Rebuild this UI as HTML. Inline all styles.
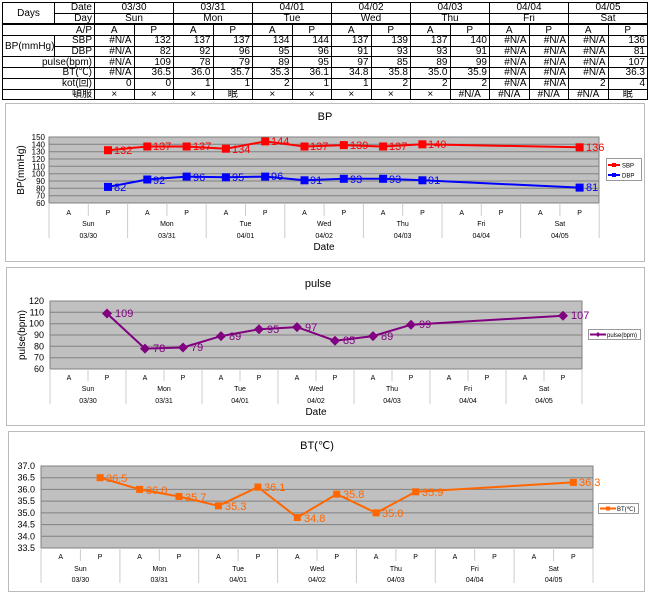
<!DOCTYPE html>
<html><head><meta charset="utf-8"><style>
body{margin:0;width:650px;height:594px;background:#fff;position:relative;overflow:hidden;font-family:"Liberation Sans","Noto Sans CJK JP",sans-serif}
table{position:absolute;left:2px;top:2px;border-collapse:collapse;table-layout:fixed;width:645px;font-size:10px;line-height:9px}
td{border:1px solid #000;padding:0 2px;height:9.7px;text-align:right;white-space:nowrap;overflow:hidden}
td.c{text-align:center}
tr.ap td{border-top:2px solid #000}
svg{position:absolute;left:0;top:0}
</style></head><body>
<table>
<colgroup><col style="width:52px"><col style="width:40px"><col span="14" style="width:39.5px"></colgroup>
<tr><td rowspan="2" class="c">Days</td><td>Date</td><td colspan="2" class="c">03/30</td><td colspan="2" class="c">03/31</td><td colspan="2" class="c">04/01</td><td colspan="2" class="c">04/02</td><td colspan="2" class="c">04/03</td><td colspan="2" class="c">04/04</td><td colspan="2" class="c">04/05</td></tr>
<tr><td>Day</td><td colspan="2" class="c">Sun</td><td colspan="2" class="c">Mon</td><td colspan="2" class="c">Tue</td><td colspan="2" class="c">Wed</td><td colspan="2" class="c">Thu</td><td colspan="2" class="c">Fri</td><td colspan="2" class="c">Sat</td></tr>
<tr class="ap"><td colspan="2">A/P</td><td class="c">A</td><td class="c">P</td><td class="c">A</td><td class="c">P</td><td class="c">A</td><td class="c">P</td><td class="c">A</td><td class="c">P</td><td class="c">A</td><td class="c">P</td><td class="c">A</td><td class="c">P</td><td class="c">A</td><td class="c">P</td></tr>
<tr><td rowspan="2" class="c">BP(mmHg)</td><td>SBP</td><td>#N/A</td><td>132</td><td>137</td><td>137</td><td>134</td><td>144</td><td>137</td><td>139</td><td>137</td><td>140</td><td>#N/A</td><td>#N/A</td><td>#N/A</td><td>136</td></tr>
<tr><td>DBP</td><td>#N/A</td><td>82</td><td>92</td><td>96</td><td>95</td><td>96</td><td>91</td><td>93</td><td>93</td><td>91</td><td>#N/A</td><td>#N/A</td><td>#N/A</td><td>81</td></tr>
<tr><td colspan="2">pulse(bpm)</td><td>#N/A</td><td>109</td><td>78</td><td>79</td><td>89</td><td>95</td><td>97</td><td>85</td><td>89</td><td>99</td><td>#N/A</td><td>#N/A</td><td>#N/A</td><td>107</td></tr>
<tr><td colspan="2">BT(℃)</td><td>#N/A</td><td>36.5</td><td>36.0</td><td>35.7</td><td>35.3</td><td>36.1</td><td>34.8</td><td>35.8</td><td>35.0</td><td>35.9</td><td>#N/A</td><td>#N/A</td><td>#N/A</td><td>36.3</td></tr>
<tr><td colspan="2">kot(回)</td><td>0</td><td>0</td><td>1</td><td>1</td><td>2</td><td>1</td><td>1</td><td>2</td><td>2</td><td>2</td><td>#N/A</td><td>#N/A</td><td>2</td><td>4</td></tr>
<tr><td colspan="2">頓服</td><td class="c">×</td><td class="c">×</td><td class="c">×</td><td class="c">眠</td><td class="c">×</td><td class="c">×</td><td class="c">×</td><td class="c">×</td><td class="c">×</td><td class="c">#N/A</td><td class="c">#N/A</td><td class="c">#N/A</td><td class="c">#N/A</td><td class="c">眠</td></tr>
</table>

<svg width="650" height="594" viewBox="0 0 650 594" font-family="Liberation Sans, sans-serif">
<!-- BP chart -->
<rect x="5.5" y="103.5" width="639" height="158" fill="#fff" stroke="#bbb"/>
<text x="325" y="120" font-size="11" text-anchor="middle">BP</text>
<rect x="49" y="137" width="550" height="66" fill="#c0c0c0" stroke="#808080"/>
<g stroke="#808080" stroke-width="1">
<line x1="49" x2="599" y1="144.3" y2="144.3"/><line x1="49" x2="599" y1="151.7" y2="151.7"/><line x1="49" x2="599" y1="159" y2="159"/><line x1="49" x2="599" y1="166.3" y2="166.3"/><line x1="49" x2="599" y1="173.7" y2="173.7"/><line x1="49" x2="599" y1="181" y2="181"/><line x1="49" x2="599" y1="188.3" y2="188.3"/><line x1="49" x2="599" y1="195.7" y2="195.7"/>
</g>
<g font-size="8" text-anchor="end"><text x="45" y="140">150</text><text x="45" y="147.3">140</text><text x="45" y="154.7">130</text><text x="45" y="162">120</text><text x="45" y="169.3">110</text><text x="45" y="176.7">100</text><text x="45" y="184">90</text><text x="45" y="191.3">80</text><text x="45" y="198.7">70</text><text x="45" y="206">60</text></g>
<text transform="translate(24,170) rotate(-90)" font-size="10" text-anchor="middle">BP(mmHg)</text>
<g stroke="#ccc"><line x1="49" x2="49" y1="203" y2="238"/><line x1="127.6" x2="127.6" y1="203" y2="238"/><line x1="206.2" x2="206.2" y1="203" y2="238"/><line x1="284.8" x2="284.8" y1="203" y2="238"/><line x1="363.4" x2="363.4" y1="203" y2="238"/><line x1="442" x2="442" y1="203" y2="238"/><line x1="520.6" x2="520.6" y1="203" y2="238"/><line x1="599.2" x2="599.2" y1="203" y2="238"/>
<line x1="88.3" x2="88.3" y1="203" y2="216"/><line x1="166.9" x2="166.9" y1="203" y2="216"/><line x1="245.5" x2="245.5" y1="203" y2="216"/><line x1="324.1" x2="324.1" y1="203" y2="216"/><line x1="402.7" x2="402.7" y1="203" y2="216"/><line x1="481.3" x2="481.3" y1="203" y2="216"/><line x1="559.9" x2="559.9" y1="203" y2="216"/></g>
<g font-size="7" text-anchor="middle"><text x="68.7" y="215">A</text><text x="108" y="215">P</text><text x="147.3" y="215">A</text><text x="186.6" y="215">P</text><text x="225.9" y="215">A</text><text x="265.2" y="215">P</text><text x="304.5" y="215">A</text><text x="343.8" y="215">P</text><text x="383.1" y="215">A</text><text x="422.4" y="215">P</text><text x="461.7" y="215">A</text><text x="501" y="215">P</text><text x="540.3" y="215">A</text><text x="579.6" y="215">P</text>
<text x="88.3" y="226">Sun</text><text x="166.9" y="226">Mon</text><text x="245.5" y="226">Tue</text><text x="324.1" y="226">Wed</text><text x="402.7" y="226">Thu</text><text x="481.3" y="226">Fri</text><text x="559.9" y="226">Sat</text>
<text x="88.3" y="238">03/30</text><text x="166.9" y="238">03/31</text><text x="245.5" y="238">04/01</text><text x="324.1" y="238">04/02</text><text x="402.7" y="238">04/03</text><text x="481.3" y="238">04/04</text><text x="559.9" y="238">04/05</text></g>
<text x="324" y="250" font-size="10" text-anchor="middle">Date</text>
<polyline fill="none" stroke="#f00" stroke-width="2" points="108,150.2 147.3,146.5 186.6,146.5 225.9,148.7 265.2,141.4 304.5,146.5 343.8,145.1 383.1,146.5 422.4,144.3 579.6,147.3"/>
<g fill="#f00"><rect x="104" y="146.2" width="8" height="8"/><rect x="143.3" y="142.5" width="8" height="8"/><rect x="182.6" y="142.5" width="8" height="8"/><rect x="221.9" y="144.7" width="8" height="8"/><rect x="261.2" y="137.4" width="8" height="8"/><rect x="300.5" y="142.5" width="8" height="8"/><rect x="339.8" y="141.1" width="8" height="8"/><rect x="379.1" y="142.5" width="8" height="8"/><rect x="418.4" y="140.3" width="8" height="8"/><rect x="575.6" y="143.3" width="8" height="8"/></g>
<g fill="#f00" font-size="11"><text x="114" y="154">132</text><text x="153" y="150">137</text><text x="193" y="150">137</text><text x="232" y="153">134</text><text x="271" y="145">144</text><text x="310" y="150">137</text><text x="350" y="149">139</text><text x="389" y="150">137</text><text x="428" y="148">140</text><text x="586" y="151">136</text></g>
<polyline fill="none" stroke="#00f" stroke-width="2" points="108,186.9 147.3,179.5 186.6,176.6 225.9,177.3 265.2,176.6 304.5,180.3 343.8,178.8 383.1,178.8 422.4,180.3 579.6,187.6"/>
<g fill="#00f"><rect x="104" y="182.9" width="8" height="8"/><rect x="143.3" y="175.5" width="8" height="8"/><rect x="182.6" y="172.6" width="8" height="8"/><rect x="221.9" y="173.3" width="8" height="8"/><rect x="261.2" y="172.6" width="8" height="8"/><rect x="300.5" y="176.3" width="8" height="8"/><rect x="339.8" y="174.8" width="8" height="8"/><rect x="379.1" y="174.8" width="8" height="8"/><rect x="418.4" y="176.3" width="8" height="8"/><rect x="575.6" y="183.6" width="8" height="8"/></g>
<g fill="#00f" font-size="11"><text x="114" y="191">82</text><text x="153" y="184">92</text><text x="193" y="181">96</text><text x="232" y="181">95</text><text x="271" y="180">96</text><text x="310" y="184">91</text><text x="350" y="183">93</text><text x="389" y="183">93</text><text x="428" y="184">91</text><text x="586" y="191">81</text></g>
<rect x="606.5" y="158.5" width="35" height="22" fill="#fff" stroke="#999"/>
<line x1="608" x2="620" y1="165" y2="165" stroke="#f00" stroke-width="2"/><rect x="612" y="163" width="4" height="4" fill="#f00"/><text x="622" y="167.5" font-size="6">SBP</text>
<line x1="608" x2="620" y1="175" y2="175" stroke="#00f" stroke-width="2"/><rect x="612" y="173" width="4" height="4" fill="#00f"/><text x="622" y="177.5" font-size="6">DBP</text>

<!-- pulse chart -->
<rect x="6.5" y="267.5" width="638" height="158" fill="#fff" stroke="#bbb"/>
<text x="318" y="287" font-size="11" text-anchor="middle">pulse</text>
<rect x="50" y="301" width="532" height="68" fill="#c0c0c0" stroke="#808080"/>
<g stroke="#808080"><line x1="50" x2="582" y1="312.3" y2="312.3"/><line x1="50" x2="582" y1="323.7" y2="323.7"/><line x1="50" x2="582" y1="335" y2="335"/><line x1="50" x2="582" y1="346.3" y2="346.3"/><line x1="50" x2="582" y1="357.7" y2="357.7"/></g>
<g font-size="9" text-anchor="end"><text x="44" y="304">120</text><text x="44" y="315.3">110</text><text x="44" y="326.7">100</text><text x="44" y="338">90</text><text x="44" y="349.3">80</text><text x="44" y="360.7">70</text><text x="44" y="372">60</text></g>
<text transform="translate(25,335) rotate(-90)" font-size="10" text-anchor="middle">pulse(bpm)</text>
<g stroke="#ccc"><line x1="50" x2="50" y1="369" y2="404"/><line x1="126" x2="126" y1="369" y2="404"/><line x1="202" x2="202" y1="369" y2="404"/><line x1="278" x2="278" y1="369" y2="404"/><line x1="354" x2="354" y1="369" y2="404"/><line x1="430" x2="430" y1="369" y2="404"/><line x1="506" x2="506" y1="369" y2="404"/><line x1="582" x2="582" y1="369" y2="404"/>
<line x1="88" x2="88" y1="369" y2="381"/><line x1="164" x2="164" y1="369" y2="381"/><line x1="240" x2="240" y1="369" y2="381"/><line x1="316" x2="316" y1="369" y2="381"/><line x1="392" x2="392" y1="369" y2="381"/><line x1="468" x2="468" y1="369" y2="381"/><line x1="544" x2="544" y1="369" y2="381"/></g>
<g font-size="7" text-anchor="middle"><text x="69" y="380">A</text><text x="107" y="380">P</text><text x="145" y="380">A</text><text x="183" y="380">P</text><text x="221" y="380">A</text><text x="259" y="380">P</text><text x="297" y="380">A</text><text x="335" y="380">P</text><text x="373" y="380">A</text><text x="411" y="380">P</text><text x="449" y="380">A</text><text x="487" y="380">P</text><text x="525" y="380">A</text><text x="563" y="380">P</text>
<text x="88" y="391">Sun</text><text x="164" y="391">Mon</text><text x="240" y="391">Tue</text><text x="316" y="391">Wed</text><text x="392" y="391">Thu</text><text x="468" y="391">Fri</text><text x="544" y="391">Sat</text>
<text x="88" y="403">03/30</text><text x="164" y="403">03/31</text><text x="240" y="403">04/01</text><text x="316" y="403">04/02</text><text x="392" y="403">04/03</text><text x="468" y="403">04/04</text><text x="544" y="403">04/05</text></g>
<text x="316" y="415" font-size="10" text-anchor="middle">Date</text>
<polyline fill="none" stroke="#800080" stroke-width="2" points="107,313.5 145,348.6 183,347.5 221,336.1 259,329.3 297,327.1 335,340.7 373,336.1 411,324.8 563,315.7"/>
<g fill="#800080"><path d="M107 308.5l5 5-5 5-5-5z"/><path d="M145 343.6l5 5-5 5-5-5z"/><path d="M183 342.5l5 5-5 5-5-5z"/><path d="M221 331.1l5 5-5 5-5-5z"/><path d="M259 324.3l5 5-5 5-5-5z"/><path d="M297 322.1l5 5-5 5-5-5z"/><path d="M335 335.7l5 5-5 5-5-5z"/><path d="M373 331.1l5 5-5 5-5-5z"/><path d="M411 319.8l5 5-5 5-5-5z"/><path d="M563 310.7l5 5-5 5-5-5z"/></g>
<g fill="#800080" font-size="11"><text x="115" y="317">109</text><text x="153" y="352">78</text><text x="191" y="351">79</text><text x="229" y="340">89</text><text x="267" y="333">95</text><text x="305" y="331">97</text><text x="343" y="344">85</text><text x="381" y="340">89</text><text x="419" y="328">99</text><text x="571" y="319">107</text></g>
<rect x="588.5" y="329.5" width="52" height="10" fill="#fff" stroke="#999"/>
<line x1="590" x2="606" y1="334.5" y2="334.5" stroke="#800080" stroke-width="2"/><path d="M598 332l2.5 2.5-2.5 2.5-2.5-2.5z" fill="#800080"/><text x="607" y="337" font-size="6">pulse(bpm)</text>

<!-- BT chart -->
<rect x="8.5" y="431.5" width="636" height="160" fill="#fff" stroke="#bbb"/>
<text x="317" y="449" font-size="11" text-anchor="middle">BT(℃)</text>
<rect x="41" y="466" width="552" height="82" fill="#c0c0c0" stroke="#808080"/>
<g stroke="#808080"><line x1="41" x2="593" y1="477.7" y2="477.7"/><line x1="41" x2="593" y1="489.4" y2="489.4"/><line x1="41" x2="593" y1="501.1" y2="501.1"/><line x1="41" x2="593" y1="512.9" y2="512.9"/><line x1="41" x2="593" y1="524.6" y2="524.6"/><line x1="41" x2="593" y1="536.3" y2="536.3"/></g>
<g font-size="9" text-anchor="end"><text x="35" y="469">37.0</text><text x="35" y="480.7">36.5</text><text x="35" y="492.4">36.0</text><text x="35" y="504.1">35.5</text><text x="35" y="515.9">35.0</text><text x="35" y="527.6">34.5</text><text x="35" y="539.3">34.0</text><text x="35" y="551">33.5</text></g>
<g stroke="#ccc"><line x1="41" x2="41" y1="548" y2="583"/><line x1="119.9" x2="119.9" y1="548" y2="583"/><line x1="198.7" x2="198.7" y1="548" y2="583"/><line x1="277.6" x2="277.6" y1="548" y2="583"/><line x1="356.4" x2="356.4" y1="548" y2="583"/><line x1="435.3" x2="435.3" y1="548" y2="583"/><line x1="514.1" x2="514.1" y1="548" y2="583"/><line x1="593" x2="593" y1="548" y2="583"/>
<line x1="80.4" x2="80.4" y1="548" y2="561"/><line x1="159.3" x2="159.3" y1="548" y2="561"/><line x1="238.1" x2="238.1" y1="548" y2="561"/><line x1="317" x2="317" y1="548" y2="561"/><line x1="395.9" x2="395.9" y1="548" y2="561"/><line x1="474.7" x2="474.7" y1="548" y2="561"/><line x1="553.6" x2="553.6" y1="548" y2="561"/></g>
<g font-size="7" text-anchor="middle"><text x="60.7" y="559">A</text><text x="100.1" y="559">P</text><text x="139.6" y="559">A</text><text x="179" y="559">P</text><text x="218.4" y="559">A</text><text x="257.9" y="559">P</text><text x="297.3" y="559">A</text><text x="336.7" y="559">P</text><text x="376.1" y="559">A</text><text x="415.6" y="559">P</text><text x="455" y="559">A</text><text x="494.4" y="559">P</text><text x="533.9" y="559">A</text><text x="573.3" y="559">P</text>
<text x="80.4" y="571">Sun</text><text x="159.3" y="571">Mon</text><text x="238.1" y="571">Tue</text><text x="317" y="571">Wed</text><text x="395.9" y="571">Thu</text><text x="474.7" y="571">Fri</text><text x="553.6" y="571">Sat</text>
<text x="80.4" y="582">03/30</text><text x="159.3" y="582">03/31</text><text x="238.1" y="582">04/01</text><text x="317" y="582">04/02</text><text x="395.9" y="582">04/03</text><text x="474.7" y="582">04/04</text><text x="553.6" y="582">04/05</text></g>
<polyline fill="none" stroke="#ff6600" stroke-width="2" points="100.1,477.7 139.6,489.4 179,496.5 218.4,505.8 257.9,487.1 297.3,517.5 336.7,494.1 376.1,512.9 415.6,491.8 573.3,482.4"/>
<g fill="#ff6600"><rect x="96.6" y="474.2" width="7" height="7"/><rect x="136.1" y="485.9" width="7" height="7"/><rect x="175.5" y="493" width="7" height="7"/><rect x="214.9" y="502.3" width="7" height="7"/><rect x="254.4" y="483.6" width="7" height="7"/><rect x="293.8" y="514" width="7" height="7"/><rect x="333.2" y="490.6" width="7" height="7"/><rect x="372.6" y="509.4" width="7" height="7"/><rect x="412.1" y="488.3" width="7" height="7"/><rect x="569.8" y="478.9" width="7" height="7"/></g>
<g fill="#ff6600" font-size="11"><text x="106" y="482">36.5</text><text x="146" y="494">36.0</text><text x="185" y="501">35.7</text><text x="225" y="510">35.3</text><text x="264" y="491">36.1</text><text x="304" y="522">34.8</text><text x="343" y="498">35.8</text><text x="382" y="517">35.0</text><text x="422" y="496">35.9</text><text x="579" y="486">36.3</text></g>
<rect x="598.5" y="503.5" width="40" height="10" fill="#fff" stroke="#999"/>
<line x1="600" x2="616" y1="508.5" y2="508.5" stroke="#ff6600" stroke-width="2"/><rect x="606" y="506.5" width="4" height="4" fill="#ff6600"/><text x="617" y="511" font-size="6">BT(℃)</text>
</svg>
</body></html>
